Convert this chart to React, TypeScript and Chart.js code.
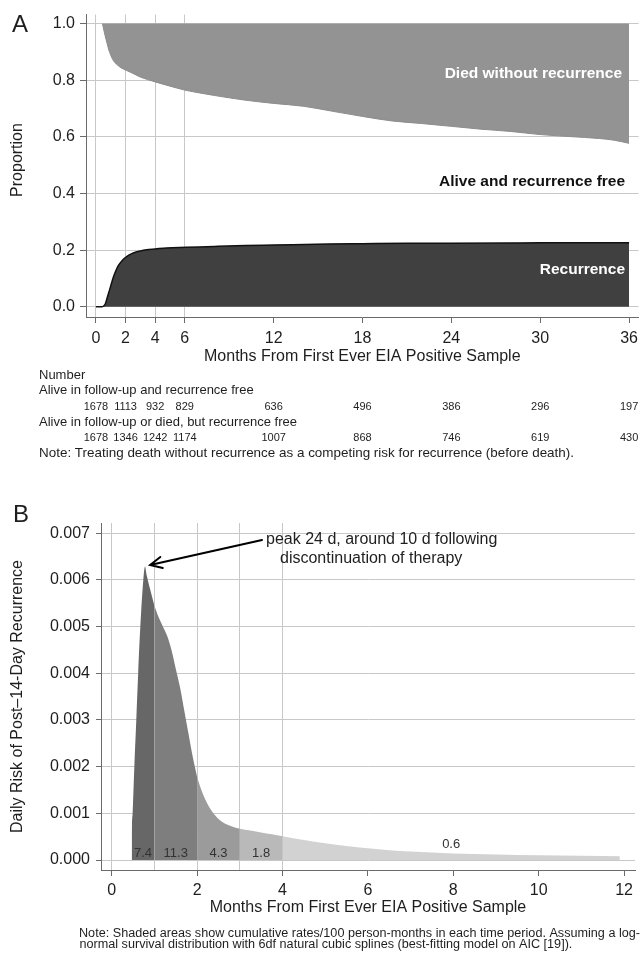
import React, { useEffect, useRef } from "react";
import { Chart, registerables } from "chart.js";

Chart.register(...registerables);

const FONT = "'Liberation Sans', Arial, Helvetica, sans-serif";
const TEXT = "#1e1e1e";
const GRID = "#c8c8c8";
const AXIS = "#6a6a6a";
const CLEAR = "rgba(0,0,0,0)";

// ---------------- Panel A data ----------------
const recurrenceMonths = [0, 0.4, 0.5, 0.62, 0.75, 0.91, 1.05, 1.18, 1.35, 1.52, 1.75, 1.97, 2.25, 2.52, 3.0, 3.42, 4.0, 4.77, 6.1, 8.0, 10.1, 12.0, 15.7, 18.0, 21.0, 24.0, 28.0, 30.0, 33.0, 36.0];
const recurrenceCumInc = [0, 0, 0.002, 0.009, 0.03, 0.058, 0.083, 0.105, 0.128, 0.146, 0.162, 0.173, 0.183, 0.19, 0.197, 0.201, 0.204, 0.208, 0.21, 0.213, 0.216, 0.218, 0.222, 0.223, 0.224, 0.224, 0.225, 0.226, 0.226, 0.226];

const deathMonths = [0.44, 0.5, 0.62, 0.75, 0.85, 1.0, 1.18, 1.4, 1.63, 2.08, 2.5, 3.0, 4.0, 5.0, 6.0, 7.0, 8.0, 10.0, 12.0, 14.0, 16.0, 18.0, 20.0, 22.0, 24.0, 26.0, 28.0, 30.0, 32.0, 34.0, 35.0, 36.0];
const deathUpperBound = [1.0, 0.985, 0.957, 0.93, 0.91, 0.888, 0.869, 0.856, 0.846, 0.834, 0.824, 0.811, 0.794, 0.779, 0.765, 0.755, 0.746, 0.73, 0.718, 0.708, 0.69, 0.672, 0.656, 0.647, 0.637, 0.627, 0.619, 0.608, 0.601, 0.594, 0.588, 0.577];

const riskTableMonths = [0, 2, 4, 6, 12, 18, 24, 30, 36];
const atRiskAliveFree = [1678, 1113, 932, 829, 636, 496, 386, 296, 197];
const atRiskAliveOrDiedFree = [1678, 1346, 1242, 1174, 1007, 868, 746, 619, 430];

const xTicksA = [0, 2, 4, 6, 12, 18, 24, 30, 36];
const xGridA = [0, 2, 4, 6];
const yTicksA = [0, 0.2, 0.4, 0.6, 0.8, 1.0];

// ---------------- Panel B data ----------------
const hazardMonths = [0.468, 0.47, 0.49, 0.53, 0.576, 0.62, 0.67, 0.74, 0.78, 0.82, 0.9, 1.0, 1.1, 1.2, 1.3, 1.4, 1.5, 1.6, 1.7, 1.8, 1.9, 2.0, 2.1, 2.2, 2.3, 2.4, 2.5, 2.7, 2.9, 3.0, 3.25, 3.5, 3.75, 4.0, 4.5, 5.0, 5.5, 6.0, 6.5, 7.0, 7.5, 8.0, 9.0, 10.0, 11.0, 11.9];
const hazardRisk = [0, 0.0004, 0.001, 0.002, 0.003, 0.004, 0.005, 0.006, 0.00629, 0.0061, 0.0058, 0.00545, 0.0052, 0.005, 0.0048, 0.0045, 0.0041, 0.0037, 0.0032, 0.0027, 0.0022, 0.00178, 0.0015, 0.00128, 0.00111, 0.00098, 0.00088, 0.00076, 0.00069, 0.00067, 0.00063, 0.00059, 0.00055, 0.00051, 0.00043, 0.00036, 0.0003, 0.00025, 0.00021, 0.00018, 0.00016, 0.00014, 0.00012, 0.0001, 0.00009, 0.00008];

const periodBreaks = [1, 2, 3, 4];
const periodRates = ["7.4", "11.3", "4.3", "1.8", "0.6"];
const periodColors = ["#676767", "#7e7e7e", "#9b9b9b", "#b9b9b9", "#d2d2d2"];

const xTicksB = [0, 1, 2, 3, 4, 6, 8, 10, 12];
const xLabelsHiddenB = [1, 3];
const xGridB = [0, 1, 2, 3, 4];
const yTicksB = [0, 0.001, 0.002, 0.003, 0.004, 0.005, 0.006, 0.007];

const peakArrowFrom = { x: 3.52, y: 0.006857 };
const peakArrowTo = { x: 0.9, y: 0.00632 };

const noteA = "Note: Treating death without recurrence as a competing risk for recurrence (before death).";
const noteB1 = "Note: Shaded areas show cumulative rates/100 person-months in each time period. Assuming a log-";
const noteB2 = "normal survival distribution with 6df natural cubic splines (best-fitting model on AIC [19]).";

// ---------------- helpers ----------------
const pts = (xs: number[], ys: number[]) => xs.map((x, i) => ({ x, y: ys[i] }));

function periodRange(k: number) {
  const lo = k === 0 ? hazardMonths[0] : periodBreaks[k - 1];
  const hi = k === periodBreaks.length ? hazardMonths[hazardMonths.length - 1] : periodBreaks[k];
  return [lo, hi];
}

function periodPoints(k: number) {
  const [lo, hi] = periodRange(k);
  return pts(hazardMonths, hazardRisk).filter((p) => p.x >= lo && p.x <= hi);
}

// draw left-aligned text horizontally scaled by sx
function fillScaled(ctx: CanvasRenderingContext2D, text: string, x: number, y: number, sx: number) {
  ctx.save();
  ctx.translate(x, y);
  ctx.scale(sx, 1);
  ctx.textAlign = "left";
  ctx.fillText(text, 0, 0);
  ctx.restore();
}

const panelAText = {
  id: "panelAText",
  afterDatasetsDraw(chart: any) {
    const { ctx, scales } = chart;
    const x = scales.x;
    const y = scales.y;
    const right = x.getPixelForValue(36);
    ctx.save();
    ctx.textAlign = "right";
    ctx.textBaseline = "alphabetic";
    ctx.font = `bold 15.5px ${FONT}`;
    ctx.fillStyle = "#ffffff";
    ctx.fillText("Died without recurrence", right - 7, y.getPixelForValue(0.8) - 2);
    ctx.fillStyle = "#111111";
    ctx.fillText("Alive and recurrence free", right - 4, y.getPixelForValue(0.4) - 7);
    ctx.fillStyle = "#ffffff";
    ctx.fillText("Recurrence", right - 4, y.getPixelForValue(0.2) + 24);
    ctx.restore();
  },
  afterDraw(chart: any) {
    const { ctx, chartArea, scales } = chart;
    const x = scales.x;
    ctx.save();
    ctx.fillStyle = TEXT;
    ctx.textBaseline = "alphabetic";
    ctx.textAlign = "left";
    ctx.font = `24px ${FONT}`;
    ctx.fillText("A", 12, 32);

    ctx.font = `16px ${FONT}`;
    ctx.save();
    ctx.translate(22, 160);
    ctx.rotate(-Math.PI / 2);
    ctx.textAlign = "center";
    ctx.fillText("Proportion", 0, 0);
    ctx.restore();

    ctx.textAlign = "center";
    ctx.fillText("Months From First Ever EIA Positive Sample", (chartArea.left + chartArea.right) / 2, 361);

    ctx.textAlign = "left";
    ctx.font = `13px ${FONT}`;
    ctx.fillText("Number", 39, 378.5);
    ctx.fillText("Alive in follow-up and recurrence free", 39, 394.3);
    ctx.fillText("Alive in follow-up or died, but recurrence free", 39, 426);
    const wA = ctx.measureText(noteA).width;
    fillScaled(ctx, noteA, 39, 457, 535 / wA);

    ctx.font = `11px ${FONT}`;
    ctx.textAlign = "center";
    riskTableMonths.forEach((m, i) => {
      const px = x.getPixelForValue(m);
      ctx.fillText(String(atRiskAliveFree[i]), px, 410.2);
      ctx.fillText(String(atRiskAliveOrDiedFree[i]), px, 441.4);
    });
    ctx.restore();
  },
};

const panelBText = {
  id: "panelBText",
  afterDatasetsDraw(chart: any) {
    const { ctx, scales } = chart;
    const x = scales.x;
    const y = scales.y;
    const zero = y.getPixelForValue(0);
    ctx.save();
    ctx.fillStyle = "#333333";
    ctx.font = `13px ${FONT}`;
    ctx.textAlign = "center";
    ctx.textBaseline = "alphabetic";
    periodRates.forEach((label, k) => {
      const [lo, hi] = periodRange(k);
      const px = x.getPixelForValue((lo + hi) / 2);
      const py = k === periodRates.length - 1 ? zero - 12 : zero - 3.5;
      ctx.fillText(label, px, py);
    });

    // annotation arrow
    const x0 = x.getPixelForValue(peakArrowFrom.x);
    const y0 = y.getPixelForValue(peakArrowFrom.y);
    const x1 = x.getPixelForValue(peakArrowTo.x);
    const y1 = y.getPixelForValue(peakArrowTo.y);
    ctx.strokeStyle = "#000000";
    ctx.lineWidth = 2;
    ctx.lineCap = "round";
    ctx.beginPath();
    ctx.moveTo(x0, y0);
    ctx.lineTo(x1, y1);
    const ang = Math.atan2(y0 - y1, x0 - x1);
    const head = 13;
    ctx.moveTo(x1 + head * Math.cos(ang + 0.45), y1 + head * Math.sin(ang + 0.45));
    ctx.lineTo(x1, y1);
    ctx.lineTo(x1 + head * Math.cos(ang - 0.45), y1 + head * Math.sin(ang - 0.45));
    ctx.stroke();

    ctx.fillStyle = TEXT;
    ctx.font = `16px ${FONT}`;
    ctx.textAlign = "left";
    ctx.fillText("peak 24 d, around 10 d following", x0 + 4, y0 + 4);
    ctx.fillText("discontinuation of therapy", x0 + 18, y0 + 23.3);
    ctx.restore();
  },
  afterDraw(chart: any) {
    const { ctx, chartArea } = chart;
    ctx.save();
    ctx.fillStyle = TEXT;
    ctx.textBaseline = "alphabetic";
    ctx.textAlign = "left";
    ctx.font = `24px ${FONT}`;
    ctx.fillText("B", 13, 51.5);

    ctx.font = `16px ${FONT}`;
    ctx.save();
    ctx.translate(22, (chartArea.top + chartArea.bottom) / 2);
    ctx.rotate(-Math.PI / 2);
    ctx.textAlign = "center";
    ctx.fillText("Daily Risk of Post\u201314-Day Recurrence", 0, 0);
    ctx.restore();

    ctx.textAlign = "center";
    ctx.fillText("Months From First Ever EIA Positive Sample", (chartArea.left + chartArea.right) / 2, 441.7);

    ctx.font = `12px ${FONT}`;
    const w1 = ctx.measureText(noteB1).width;
    const sx = 561 / w1;
    fillScaled(ctx, noteB1, 79, 466.5, sx);
    fillScaled(ctx, noteB2, 79.5, 477.5, sx);
    ctx.restore();
  },
};

function tickFont() {
  return { family: FONT, size: 16 };
}

export default function App() {
  const refA = useRef<HTMLCanvasElement>(null);
  const refB = useRef<HTMLCanvasElement>(null);

  useEffect(() => {
    const chartA = new Chart(refA.current as HTMLCanvasElement, {
      type: "line",
      data: {
        datasets: [
          {
            label: "Died without recurrence",
            data: pts(deathMonths, deathUpperBound),
            fill: { value: 1 },
            backgroundColor: "#939393",
            borderColor: "#8c8c8c",
            borderWidth: 1,
            pointRadius: 0,
            cubicInterpolationMode: "monotone",
          },
          {
            label: "Recurrence",
            data: pts(recurrenceMonths, recurrenceCumInc),
            fill: "origin",
            backgroundColor: "#404040",
            borderColor: "#111111",
            borderWidth: 1.5,
            pointRadius: 0,
            cubicInterpolationMode: "monotone",
          },
        ],
      } as any,
      options: {
        responsive: false,
        devicePixelRatio: 1,
        animation: false,
        layout: { padding: { left: 0, top: 12, right: 2, bottom: 0 } },
        plugins: { legend: { display: false }, tooltip: { enabled: false } },
        scales: {
          x: {
            type: "linear",
            min: -0.671,
            max: 36.644,
            afterBuildTicks: (s: any) => {
              s.ticks = xTicksA.map((v) => ({ value: v }));
            },
            afterFit: (s: any) => {
              s.height = 153;
            },
            grid: {
              color: (c: any) => (c.tick && xGridA.includes(c.tick.value) ? GRID : CLEAR),
              lineWidth: 1,
              tickLength: 6,
              tickColor: AXIS,
            },
            border: { display: true, color: AXIS, width: 1 },
            ticks: {
              color: TEXT,
              font: tickFont(),
              padding: 6,
              maxRotation: 0,
              autoSkip: false,
              callback: (v: any) => String(v),
            },
          },
          y: {
            type: "linear",
            min: -0.036,
            max: 1.0315,
            afterBuildTicks: (s: any) => {
              s.ticks = yTicksA.map((v) => ({ value: v }));
            },
            afterFit: (s: any) => {
              s.width = 86;
            },
            grid: { color: GRID, lineWidth: 1, tickLength: 6, tickColor: AXIS },
            border: { display: true, color: AXIS, width: 1 },
            ticks: {
              color: TEXT,
              font: tickFont(),
              padding: 5,
              callback: (v: any) => Number(v).toFixed(1),
            },
          },
        },
      } as any,
      plugins: [panelAText],
    });

    const chartB = new Chart(refB.current as HTMLCanvasElement, {
      type: "line",
      data: {
        datasets: periodRates.map((r, k) => ({
          label: `Period ${k + 1}`,
          data: periodPoints(k),
          fill: "origin",
          backgroundColor: periodColors[k],
          borderColor: periodColors[k],
          borderWidth: 0,
          pointRadius: 0,
          cubicInterpolationMode: "monotone",
        })),
      } as any,
      options: {
        responsive: false,
        devicePixelRatio: 1,
        animation: false,
        layout: { padding: { left: 0, top: 53, right: 9, bottom: 0 } },
        plugins: { legend: { display: false }, tooltip: { enabled: false } },
        scales: {
          x: {
            type: "linear",
            min: -0.2506,
            max: 12.255,
            afterBuildTicks: (s: any) => {
              s.ticks = xTicksB.map((v) => ({ value: v }));
            },
            afterFit: (s: any) => {
              s.height = 87;
            },
            grid: {
              color: (c: any) => (c.tick && xGridB.includes(c.tick.value) ? GRID : CLEAR),
              lineWidth: 1,
              tickLength: 6,
              tickColor: (c: any) => (c.tick && xLabelsHiddenB.includes(c.tick.value) ? CLEAR : AXIS),
            },
            border: { display: true, color: AXIS, width: 1 },
            ticks: {
              color: TEXT,
              font: tickFont(),
              padding: 5,
              maxRotation: 0,
              autoSkip: false,
              callback: (v: any) => (xLabelsHiddenB.includes(Number(v)) ? "" : String(v)),
            },
          },
          y: {
            type: "linear",
            min: -0.000214,
            max: 0.007221,
            afterBuildTicks: (s: any) => {
              s.ticks = yTicksB.map((v) => ({ value: v }));
            },
            afterFit: (s: any) => {
              s.width = 101;
            },
            grid: { color: GRID, lineWidth: 1, tickLength: 5, tickColor: AXIS },
            border: { display: true, color: AXIS, width: 1 },
            ticks: {
              color: TEXT,
              font: tickFont(),
              padding: 6,
              callback: (v: any) => Number(v).toFixed(3),
            },
          },
        },
      } as any,
      plugins: [panelBText],
    });

    return () => {
      chartA.destroy();
      chartB.destroy();
    };
  }, []);

  return (
    <div style={{ position: "absolute", left: 0, top: 0, width: 644, height: 957, background: "#ffffff" }}>
      <canvas
        ref={refA}
        width={644}
        height={470}
        style={{ position: "absolute", left: 0, top: 0, width: 644, height: 470 }}
      />
      <canvas
        ref={refB}
        width={644}
        height={487}
        style={{ position: "absolute", left: 0, top: 470, width: 644, height: 487 }}
      />
    </div>
  );
}
